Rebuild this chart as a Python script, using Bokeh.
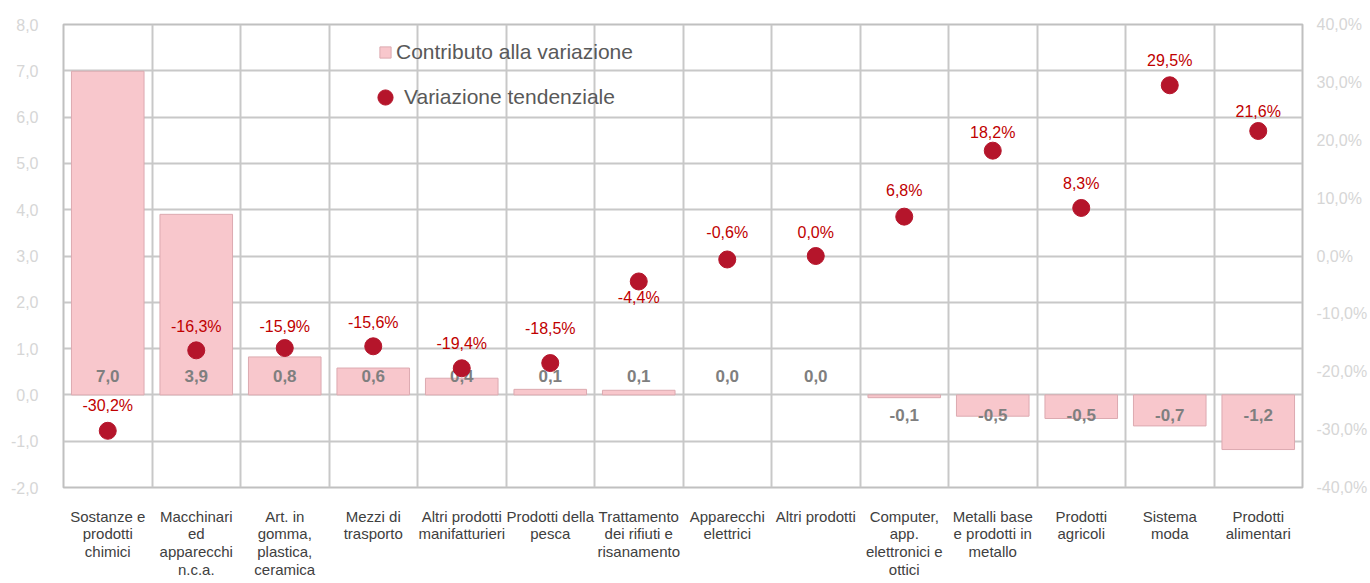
from bokeh.plotting import figure
from bokeh.models import (ColumnDataSource, FactorRange, Range1d, LinearAxis, FixedTicker,
                          CustomJSTickFormatter, Legend, LegendItem)
from bokeh.core.properties import value
from bokeh.embed import file_html
from bokeh.resources import INLINE

# ---------------- data ----------------
categories = [
    "Sostanze e\nprodotti\nchimici",
    "Macchinari\ned\napparecchi\nn.c.a.",
    "Art. in\ngomma,\nplastica,\nceramica",
    "Mezzi di\ntrasporto",
    "Altri prodotti\nmanifatturieri",
    "Prodotti della\npesca",
    "Trattamento\ndei rifiuti e\nrisanamento",
    "Apparecchi\nelettrici",
    "Altri prodotti",
    "Computer,\napp.\nelettronici e\nottici",
    "Metalli base\ne prodotti in\nmetallo",
    "Prodotti\nagricoli",
    "Sistema\nmoda",
    "Prodotti\nalimentari",
]
contributo = [6.99, 3.9, 0.82, 0.58, 0.36, 0.12, 0.1, 0.0, 0.0, -0.06, -0.46, -0.51, -0.67, -1.18]
variazione = [-30.2, -16.3, -15.9, -15.6, -19.4, -18.5, -4.4, -0.6, 0.0, 6.8, 18.2, 8.3, 29.5, 21.6]
left_ticks = [-2, -1, 0, 1, 2, 3, 4, 5, 6, 7, 8]
right_ticks = [-40, -30, -20, -10, 0, 10, 20, 30, 40]
series_names = ["Contributo alla variazione", "Variazione tendenziale"]

# label placement (style only, screen px)
var_label_offsets = [-25, -24, -22, -24, -25, -35, 16, -27, -24, -26, -18, -24, -25, -19]

FONT = "Liberation Sans"
BAR_FILL = "#f8c7cc"
BAR_LINE = "#dcaab0"
DOT = "#b5152b"
DOT_TXT = "#c00000"
GRID = "#c8c8c8"
TICK_TXT = "#d6d6d6"

def fmt(v, suffix=""):
    s = f"{v:.1f}"
    if s == "-0.0":
        s = "0.0"
    return s.replace(".", ",") + suffix

src = ColumnDataSource(dict(
    cat=categories,
    contributo=contributo,
    variazione=variazione,
    contr_lbl=[fmt(v) for v in contributo],
    var_lbl=[fmt(v, "%") for v in variazione],
    zero=[0] * len(categories),
    contr_off=[20 if v < 0 else -19 for v in contributo],
    bar_line=[None if v == 0 else BAR_LINE for v in contributo],
    var_off=var_label_offsets,
))

p = figure(x_range=FactorRange(factors=categories), y_range=Range1d(-2, 8),
           width=1370, height=583, output_backend="svg", toolbar_location=None,
           min_border_left=63, min_border_right=67, min_border_top=24, min_border_bottom=96)
p.extra_y_ranges = {"pct": Range1d(-40, 40)}
p.background_fill_color = "white"
p.border_fill_color = "white"
p.outline_line_color = "#c0c0c0"
p.outline_line_width = 2

# left axis
ya = p.yaxis[0]
ya.ticker = FixedTicker(ticks=left_ticks)
ya.formatter = CustomJSTickFormatter(code="return tick.toFixed(1).replace('.', ',');")
ya.axis_line_color = None
ya.major_tick_line_color = None
ya.minor_tick_line_color = None
ya.major_label_standoff = 19
ya.major_label_text_font = FONT
ya.major_label_text_font_size = "16px"
ya.major_label_text_color = TICK_TXT

# right axis
ra = LinearAxis(y_range_name="pct", ticker=FixedTicker(ticks=right_ticks),
                formatter=CustomJSTickFormatter(code="return tick.toFixed(1).replace('.', ',') + '%';"))
ra.axis_line_color = None
ra.major_tick_line_color = None
ra.minor_tick_line_color = None
ra.major_label_standoff = 8
ra.major_label_text_font = FONT
ra.major_label_text_font_size = "16px"
ra.major_label_text_color = TICK_TXT
p.add_layout(ra, "right")

# x axis
xa = p.xaxis[0]
xa.axis_line_color = None
xa.major_tick_line_color = None
xa.minor_tick_line_color = None
xa.major_label_standoff = 14
xa.major_label_text_font = FONT
xa.major_label_text_font_size = "15px"
xa.major_label_text_color = "#404040"
xa.major_label_text_line_height = 1.05
xa.major_label_orientation = "horizontal"

# grids
p.ygrid.ticker = FixedTicker(ticks=left_ticks)
p.ygrid.grid_line_color = GRID
p.ygrid.grid_line_width = 2
p.xgrid.ticker = FixedTicker(ticks=list(range(len(categories) + 1)))
p.xgrid.grid_line_color = GRID
p.xgrid.grid_line_width = 2

bars = p.vbar(x="cat", top="contributo", bottom=0, width=0.82, source=src,
              fill_color=BAR_FILL, line_color="bar_line", line_width=1)
p.text(x="cat", y="zero", text="contr_lbl", y_offset="contr_off", source=src,
       text_align="center", text_baseline="middle", text_font=value(FONT),
       text_font_size="17px", text_font_style="bold", text_color="#7f7f7f")

dots = p.scatter(x="cat", y="variazione", y_range_name="pct", source=src, size=17,
                 fill_color=DOT, line_color=DOT)
p.text(x="cat", y="variazione", y_range_name="pct", text="var_lbl", y_offset="var_off",
       source=src, text_align="center", text_baseline="middle", text_font=value(FONT),
       text_font_size="16px", text_color=DOT_TXT)

common = dict(padding=0, margin=0, spacing=0, background_fill_alpha=0, border_line_color=None,
              label_text_font=FONT, label_text_font_size="21px", label_text_color="#595959")
leg1 = Legend(items=[LegendItem(label=series_names[0], renderers=[bars])],
              location=(315, 423), glyph_width=14, glyph_height=14, label_standoff=4, **common)
leg2 = Legend(items=[LegendItem(label=series_names[1], renderers=[dots])],
              location=(303, 371), glyph_width=38, glyph_height=38, label_standoff=0, **common)
p.add_layout(leg1)
p.add_layout(leg2)

open("out.html", "w").write(file_html(p, INLINE))
